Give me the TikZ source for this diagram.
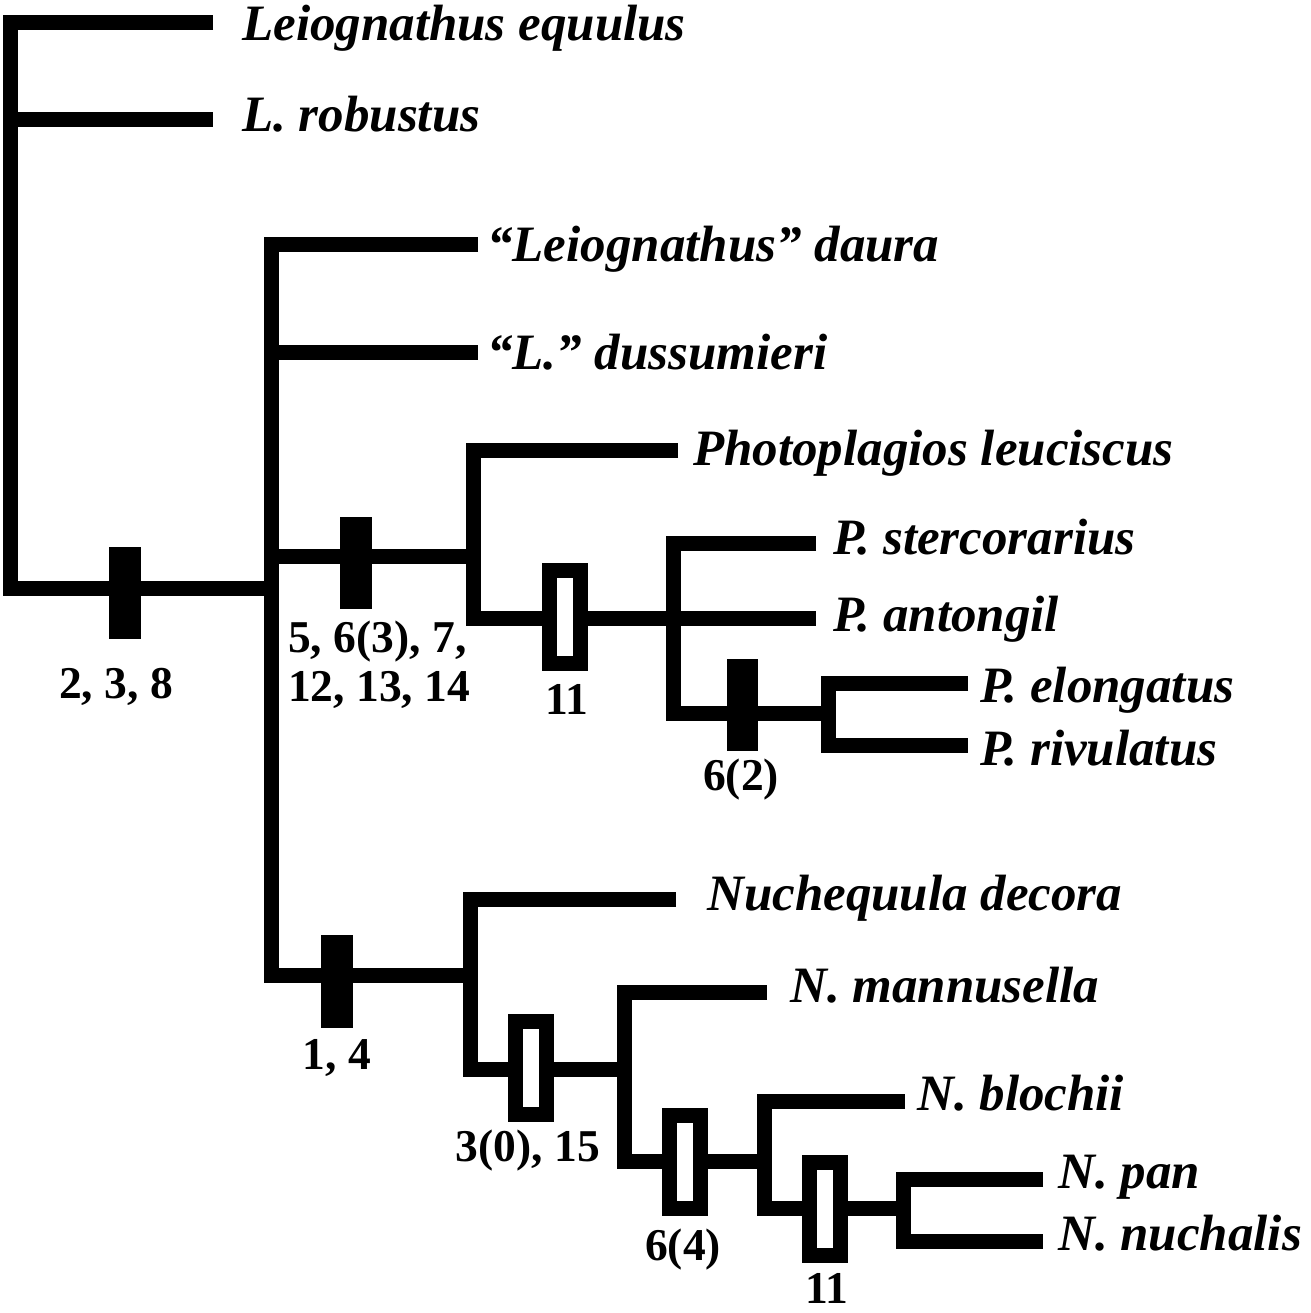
\documentclass[tikz,border=0pt]{standalone}
\usepackage{fontspec}
\setmainfont{Liberation Serif}
\begin{document}
\begin{tikzpicture}[x=1pt,y=-1pt,
  br/.style={line width=15pt},
  taxon/.style={anchor=base west,inner sep=0pt,font=\bfseries\itshape\fontsize{51}{60}\selectfont},
  num/.style={anchor=base,inner sep=0pt,font=\bfseries\fontsize{45.5}{49}\selectfont},
  fullbar/.style={fill=black,draw=none,inner sep=0pt,minimum width=32pt,minimum height=92pt},
  openbar/.style={fill=white,draw=black,line width=15pt,inner sep=0pt,minimum width=31pt,minimum height=93pt}]
\useasboundingbox (0,0) rectangle (1310,1313);
% internal nodes
\coordinate (n0) at (10,588);
\coordinate (n1) at (271,588);
\coordinate (p0) at (473,556);
\coordinate (p1) at (673,618);
\coordinate (p2) at (828,713);
\coordinate (q0) at (470,975);
\coordinate (q1) at (624,1069);
\coordinate (q2) at (764,1161);
\coordinate (q3) at (903,1208);
% tips
\coordinate (tLeq) at (213,23);
\coordinate (tLro) at (213,120);
\coordinate (tDau) at (478,245);
\coordinate (tDus) at (478,352);
\coordinate (tLeu) at (678,450);
\coordinate (tSte) at (816,543);
\coordinate (tAnt) at (816,618);
\coordinate (tElo) at (968,683);
\coordinate (tRiv) at (968,745);
\coordinate (tDec) at (676,899);
\coordinate (tMan) at (767,992);
\coordinate (tBlo) at (905,1101);
\coordinate (tPan) at (1043,1179);
\coordinate (tNuc) at (1043,1241);
% branches
\draw[br] (tLeq) -| (n0) -- (n1);
\draw[br] (n0 |- tLro) -- (tLro);
\draw[br] (tDau) -| (n1 |- q0) -- (q0);
\draw[br] (n1 |- tDus) -- (tDus);
\draw[br] (n1 |- p0) -- (p0);
\draw[br] (tLeu) -| (p0 |- p1) -- (p1) -- (tAnt);
\draw[br] (tSte) -| (p1 |- p2) -- (p2);
\draw[br] (tElo) -| (p2 |- tRiv) -- (tRiv);
\draw[br] (tDec) -| (q0 |- q1) -- (q1);
\draw[br] (tMan) -| (q1 |- q2) -- (q2);
\draw[br] (tBlo) -| (q2 |- q3) -- (q3);
\draw[br] (tPan) -| (q3 |- tNuc) -- (tNuc);
% character bars
\node[fullbar] (b238) at (125,593) {};
\node[fullbar] (b5) at (356,563) {};
\node[openbar] (b11a) at (565,617) {};
\node[fullbar,minimum width=31pt] (b62) at (742,705) {};
\node[fullbar,minimum height=93pt] (b14) at (337,981) {};
\node[openbar] (b30) at (531,1068) {};
\node[openbar] (b64) at (685,1162) {};
\node[openbar] (b11b) at (825,1209) {};
% bar labels
\node[num] (l238) at (116,698) {2, 3, 8};
\node[num,anchor=north west,align=left] (l5) at (288,621) {5, 6(3), 7,\\12, 13, 14};
\node[num] (l11a) at (567,714) {11};
\node[num] (l62) at (741,790) {6(2)};
\node[num] (l14) at (337,1069) {1, 4};
\node[num] (l30) at (528,1161) {3(0), 15};
\node[num] (l64) at (683,1260) {6(4)};
\node[num] (l11b) at (827,1303) {11};
% taxa
\node[taxon] (Leq) at (242,41) {Leiognathus equulus};
\node[taxon] (Lro) at (242,132) {L. robustus};
\node[taxon] (Dau) at (487,262) {“Leiognathus” daura};
\node[taxon] (Dus) at (487,369) {“L.” dussumieri};
\node[taxon] (Leu) at (693,465) {Photoplagios leuciscus};
\node[taxon] (Ste) at (833,554) {P. stercorarius};
\node[taxon] (Ant) at (833,631) {P. antongil};
\node[taxon] (Elo) at (980,702) {P. elongatus};
\node[taxon] (Riv) at (980,765) {P. rivulatus};
\node[taxon] (Dec) at (707,910) {Nuchequula decora};
\node[taxon] (Man) at (790,1002) {N. mannusella};
\node[taxon] (Blo) at (917,1110) {N. blochii};
\node[taxon] (Pan) at (1058,1188) {N. pan};
\node[taxon] (Nuc) at (1058,1250) {N. nuchalis};
\end{tikzpicture}
\end{document}
